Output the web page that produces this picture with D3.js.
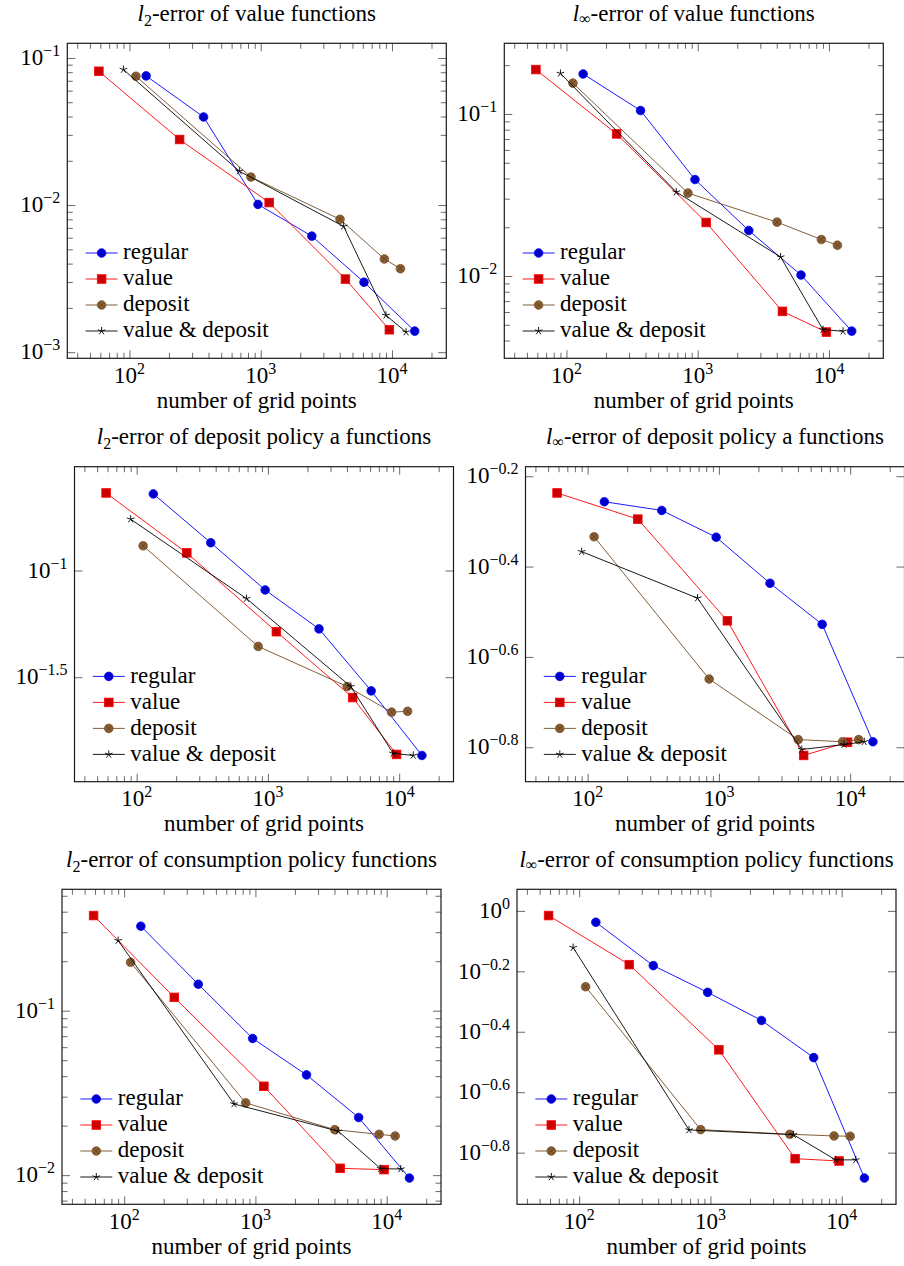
<!DOCTYPE html>
<html><head><meta charset="utf-8">
<script src="https://cdn.jsdelivr.net/npm/d3@7"></script>
</head><body style="margin:0">
<svg id="c" width="904" height="1266" style="display:block;position:absolute;left:0;top:0"></svg>
<script>
// ---------- data ----------
const seriesNames = ["regular", "value", "deposit", "value & deposit"];
const xRegular = [134, 367, 953, 2450, 6120, 14900];
const xValue   = [58.5, 241, 1160, 4420, 9550];
const xDeposit = [112, 843, 4020, 8750, 11600];
const xValDep  = [90, 687, 4280, 9000, 12800];

const titles = [
  ["2", "-error of value functions"],
  ["∞", "-error of value functions"],
  ["2", "-error of deposit policy a functions"],
  ["∞", "-error of deposit policy a functions"],
  ["2", "-error of consumption policy functions"],
  ["∞", "-error of consumption policy functions"]
];
const xLabel = "number of grid points";
const xMajorTicks = [100, 1000, 10000];
const xTickExps = ["2", "3", "4"];

// y values per panel: regular, value, deposit, value & deposit
const l2Value_reg = [0.0755, 0.0397, 0.0101, 0.00615, 0.00299, 0.00139];
const l2Value_val = [0.0812, 0.0279, 0.0104, 0.00314, 0.00142];
const l2Value_dep = [0.0751, 0.0155, 0.0080, 0.00430, 0.00369];
const l2Value_vd  = [0.0834, 0.0170, 0.00716, 0.00178, 0.00137];

const liValue_reg = [0.1766, 0.105, 0.0394, 0.0191, 0.01014, 0.00457];
const liValue_val = [0.188, 0.0753, 0.0214, 0.00605, 0.00451];
const liValue_dep = [0.155, 0.0325, 0.0215, 0.0168, 0.0155];
const liValue_vd  = [0.178, 0.0330, 0.0131, 0.00467, 0.00456];

const l2Dep_reg = [0.2286, 0.135, 0.0811, 0.0533, 0.0273, 0.0136];
const l2Dep_val = [0.231, 0.121, 0.0517, 0.0254, 0.01375];
const l2Dep_dep = [0.1306, 0.0441, 0.0286, 0.0217, 0.0219];
const l2Dep_vd  = [0.174, 0.0739, 0.0286, 0.0139, 0.0136];

const liDep_reg = [0.554, 0.530, 0.4624, 0.3656, 0.2965, 0.163];
const liDep_val = [0.5794, 0.507, 0.302, 0.152, 0.1626];
const liDep_dep = [0.4634, 0.2244, 0.1648, 0.163, 0.1648];
const liDep_vd  = [0.4296, 0.339, 0.1567, 0.1607, 0.163];

const l2Con_reg = [0.3266, 0.1449, 0.0678, 0.0407, 0.0224, 0.0096];
const l2Con_val = [0.379, 0.1205, 0.0347, 0.0110, 0.0108];
const l2Con_dep = [0.197, 0.0275, 0.0189, 0.0177, 0.0173];
const l2Con_vd  = [0.267, 0.0271, 0.0185, 0.01094, 0.0109];

const liCon_reg = [0.917, 0.659, 0.5375, 0.434, 0.327, 0.1306];
const liCon_val = [0.965, 0.664, 0.347, 0.1514, 0.1487];
const liCon_dep = [0.561, 0.1889, 0.1823, 0.180, 0.1796];
const liCon_vd  = [0.756, 0.1884, 0.1818, 0.150, 0.150];

// y tick exponents per panel (labels 10^e)
const yTickExps = [
  ["-1", "-2", "-3"],
  ["-1", "-2"],
  ["-1", "-1.5"],
  ["-0.2", "-0.4", "-0.6", "-0.8"],
  ["-1", "-2"],
  ["0", "-0.2", "-0.4", "-0.6", "-0.8"]
];
const yMinor = [true, true, false, false, true, false];

const panelData = [
  [l2Value_reg, l2Value_val, l2Value_dep, l2Value_vd],
  [liValue_reg, liValue_val, liValue_dep, liValue_vd],
  [l2Dep_reg, l2Dep_val, l2Dep_dep, l2Dep_vd],
  [liDep_reg, liDep_val, liDep_dep, liDep_vd],
  [l2Con_reg, l2Con_val, l2Con_dep, l2Con_vd],
  [liCon_reg, liCon_val, liCon_dep, liCon_vd]
];
const xArrays = [xRegular, xValue, xDeposit, xValDep];

// ---------- styles / layout ----------
const FS = 23, SUP = 16;
const W = 379, H = 315;
const layout = [
  {left: 67.3, top: 43.3}, {left: 504.3, top: 43.3},
  {left: 74.5, top: 466.7}, {left: 525.5, top: 466.7},
  {left: 62, top: 889.3}, {left: 517, top: 889.3}
];
const styles = [
  {line: "#0000ff", mark: "circle", fill: "#0000cc", stroke: "#0000ff"},
  {line: "#ff0000", mark: "square", fill: "#cc0000", stroke: "#ff0000"},
  {line: "#734d26", mark: "otimes", fill: "#8a5d33", stroke: "#734d26"},
  {line: "#000000", mark: "star", fill: "none", stroke: "#000000"}
];

const svg = d3.select("#c");
const overlay = d3.select("body").append("div")
  .style("position", "absolute").style("left", "0px").style("top", "0px")
  .style("width", "904px").style("height", "1266px");

function fmtExp(e) { return e.replace("-", "\u2212"); }

// HTML text label; y is the baseline; anchor: start | middle | end
const BASE = 0.8375 * FS; // baseline offset inside a line box of height FS
function label(x, y, anchor, parts) {
  const shift = anchor === "middle" ? "-50%" : anchor === "end" ? "-100%" : "0";
  const d = overlay.append("div")
    .style("position", "absolute")
    .style("left", x + "px").style("top", (y - BASE) + "px")
    .style("transform", `translateX(${shift})`)
    .style("font-family", '"Liberation Serif"')
    .style("font-size", FS + "px").style("line-height", FS + "px")
    .style("white-space", "nowrap").style("color", "#000");
  parts.forEach(p => {
    const s = d.append("span").text(p.t);
    if (p.size) s.style("font-size", p.size + "px");
    if (p.dy) s.style("position", "relative").style("top", p.dy + "px");
    if (p.italic) s.style("font-style", "italic");
  });
  return d;
}

function drawMarker(g, type, cx, cy, st) {
  if (type === "circle") {
    g.append("circle").attr("cx", cx).attr("cy", cy).attr("r", 4.3)
      .attr("fill", st.fill).attr("stroke", st.stroke).attr("stroke-width", 0.8);
  } else if (type === "square") {
    g.append("rect").attr("x", cx - 4.3).attr("y", cy - 4.3).attr("width", 8.6).attr("height", 8.6)
      .attr("fill", st.fill).attr("stroke", st.stroke).attr("stroke-width", 0.8);
  } else if (type === "otimes") {
    g.append("circle").attr("cx", cx).attr("cy", cy).attr("r", 4.3)
      .attr("fill", st.fill).attr("stroke", st.stroke).attr("stroke-width", 0.8);
    const r = 3.0;
    g.append("path").attr("d", `M${cx - r},${cy - r}L${cx + r},${cy + r}M${cx - r},${cy + r}L${cx + r},${cy - r}`)
      .attr("stroke", "#5a3c1e").attr("stroke-width", 0.7);
  } else if (type === "star") {
    const r = 4;
    let d = "";
    for (let k = 0; k < 5; k++) {
      const a = (-90 + k * 72) * Math.PI / 180;
      d += `M${cx},${cy}L${cx + r * Math.cos(a)},${cy + r * Math.sin(a)}`;
    }
    g.append("path").attr("d", d).attr("stroke", st.stroke).attr("stroke-width", 0.9).attr("fill", "none");
  }
}

function drawPanel(i) {
  const L = layout[i];
  const data = panelData[i];
  const g = svg.append("g");
  const allX = xArrays.flat().map(Math.log10);
  const allY = data.flat().map(Math.log10);
  const xe = d3.extent(allX), ye = d3.extent(allY);
  const xp = (xe[1] - xe[0]) * 0.1, yp = (ye[1] - ye[0]) * 0.1;
  const x = d3.scaleLog().domain([10 ** (xe[0] - xp), 10 ** (xe[1] + xp)]).range([L.left, L.left + W]);
  const y = d3.scaleLog().domain([10 ** (ye[0] - yp), 10 ** (ye[1] + yp)]).range([L.top + H, L.top]);

  const [x0, x1] = x.domain();
  const xMinorVals = [];
  for (let p = Math.floor(Math.log10(x0)); p <= Math.ceil(Math.log10(x1)); p++)
    for (let m = 2; m <= 9; m++) { const v = m * 10 ** p; if (v > x0 && v < x1) xMinorVals.push(v); }
  const yMajorVals = yTickExps[i].map(e => 10 ** (+e));
  const [y0, y1] = y.domain();
  const yMinorVals = [];
  if (yMinor[i]) {
    for (let p = Math.floor(Math.log10(y0)); p <= Math.ceil(Math.log10(y1)); p++)
      for (let m = 2; m <= 9; m++) { const v = m * 10 ** p; if (v > y0 && v < y1) yMinorVals.push(v); }
  }
  const tickStyle = s => { s.select(".domain").remove(); s.selectAll("line").attr("stroke", "#444").attr("stroke-width", 0.8); s.selectAll("text").remove(); };
  const MJ = 8, MN = 5.5;
  g.append("g").attr("transform", `translate(0,${L.top + H})`).call(d3.axisBottom(x).tickValues(xMajorTicks).tickSizeInner(-MJ).tickSizeOuter(0)).call(tickStyle);
  g.append("g").attr("transform", `translate(0,${L.top + H})`).call(d3.axisBottom(x).tickValues(xMinorVals).tickSizeInner(-MN).tickSizeOuter(0)).call(tickStyle);
  g.append("g").attr("transform", `translate(0,${L.top})`).call(d3.axisTop(x).tickValues(xMajorTicks).tickSizeInner(-MJ).tickSizeOuter(0)).call(tickStyle);
  g.append("g").attr("transform", `translate(0,${L.top})`).call(d3.axisTop(x).tickValues(xMinorVals).tickSizeInner(-MN).tickSizeOuter(0)).call(tickStyle);
  g.append("g").attr("transform", `translate(${L.left},0)`).call(d3.axisLeft(y).tickValues(yMajorVals).tickSizeInner(-MJ).tickSizeOuter(0)).call(tickStyle);
  g.append("g").attr("transform", `translate(${L.left + W},0)`).call(d3.axisRight(y).tickValues(yMajorVals).tickSizeInner(-MJ).tickSizeOuter(0)).call(tickStyle);
  if (yMinorVals.length) {
    g.append("g").attr("transform", `translate(${L.left},0)`).call(d3.axisLeft(y).tickValues(yMinorVals).tickSizeInner(-MN).tickSizeOuter(0)).call(tickStyle);
    g.append("g").attr("transform", `translate(${L.left + W},0)`).call(d3.axisRight(y).tickValues(yMinorVals).tickSizeInner(-MN).tickSizeOuter(0)).call(tickStyle);
  }

  g.append("rect").attr("x", L.left).attr("y", L.top).attr("width", W).attr("height", H)
    .attr("fill", "none").attr("stroke", "#1a1a1a").attr("stroke-width", 1.2);

  // tick labels, axis label, title (HTML text)
  xMajorTicks.forEach((v, k) => {
    label(x(v), L.top + H + 25, "middle", [{t: "10"}, {t: xTickExps[k], size: SUP, dy: -9}]);
  });
  yTickExps[i].forEach(e => {
    label(L.left - 7, y(10 ** (+e)) + 7.5, "end", [{t: "10"}, {t: fmtExp(e), size: SUP, dy: -9}]);
  });
  label(L.left + W / 2, L.top + H + 50, "middle", [{t: xLabel}]);
  const sub = titles[i][0];
  label(L.left + W / 2, L.top - 22.5, "middle",
    [{t: "l", italic: true}, {t: sub, size: SUP, dy: sub === "2" ? 5 : 3}, {t: titles[i][1]}]);

  const line = d3.line().x(d => x(d[0])).y(d => y(d[1]));
  data.forEach((ys, s) => {
    const pts = ys.map((v, k) => [xArrays[s][k], v]);
    const st = styles[s];
    g.append("path").attr("d", line(pts)).attr("fill", "none").attr("stroke", st.line).attr("stroke-width", 0.9);
    const mg = g.append("g");
    pts.forEach(p => drawMarker(mg, st.mark, x(p[0]), y(p[1]), st));
  });

  const lx0 = L.left + 18.3, ly0 = L.top + H - 105.3;
  seriesNames.forEach((name, s) => {
    const st = styles[s];
    const cy = ly0 + s * 26;
    g.append("line").attr("x1", lx0).attr("x2", lx0 + 32).attr("y1", cy).attr("y2", cy)
      .attr("stroke", st.line).attr("stroke-width", 0.9);
    drawMarker(g, st.mark, lx0 + 16, cy, st);
    label(lx0 + 37.5, cy + 6.5, "start", [{t: name}]);
  });
}

for (let i = 0; i < 6; i++) drawPanel(i);
</script>
</body></html>
